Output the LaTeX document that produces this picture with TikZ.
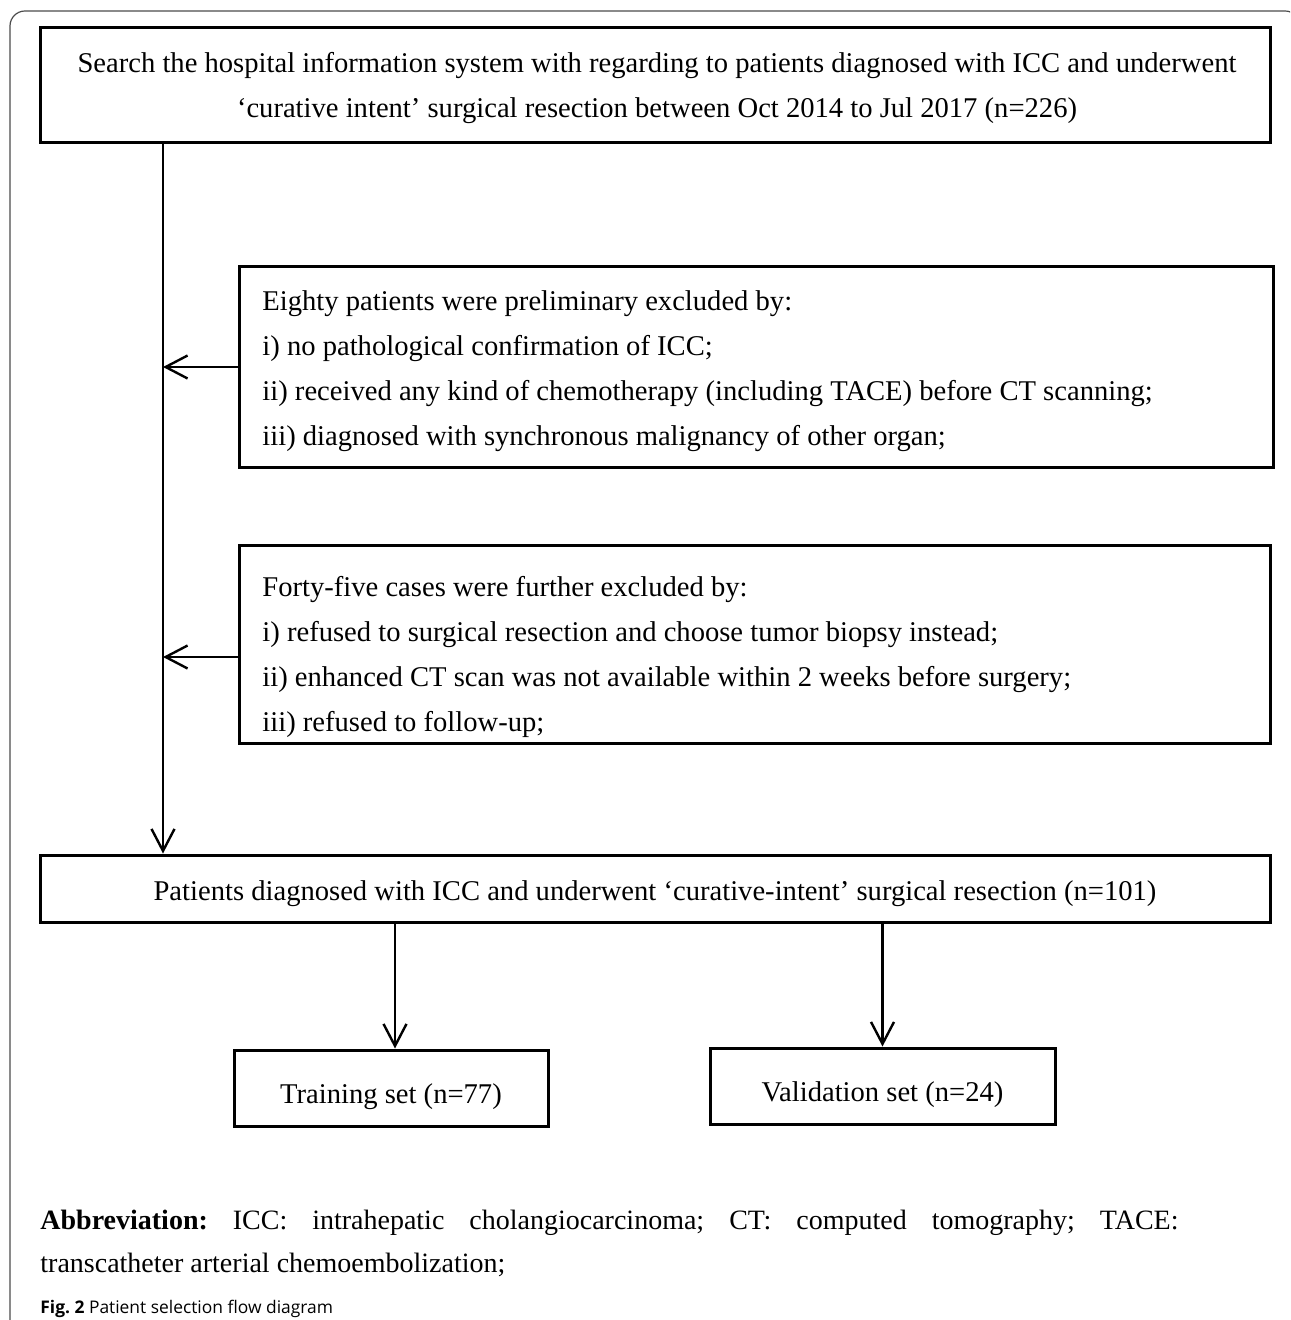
\documentclass[tikz,border=0pt]{standalone}
\usepackage{fontspec}
\setmainfont{Liberation Serif}
\newfontfamily\capfont{Open Sans}
\usetikzlibrary{arrows.meta,positioning}
\frenchspacing

\begin{document}
\begin{tikzpicture}[
	x = 0.5pt, y = -0.5pt, % one unit per pixel, y going down
	> = {Straight Barb[length=11pt, width=11.5pt]}, % open arrow head
	box/.style={rectangle, draw=black, line width=1.5pt, inner sep=0pt, font=\fontsize{14.3}{22}\selectfont},
	txt/.style={inner sep=0pt, align=left, font=\fontsize{14.3}{22.4}\selectfont},
	arr/.style={->, line width=1.2pt},
	frame/.style={draw=black!70, line width=0.6pt, rounded corners=7.5pt},
	]
	\useasboundingbox (0,0) rectangle (1290,1320);
	\clip (0,0) rectangle (1290,1320);

	% Outer frame
	\draw[frame] (10,1340) -- (10,11) -- (1300,11) -- (1300,1340);

	% Boxes
	\node[box, minimum width=615pt, minimum height=57.5pt] (search) at (655,85.5) {};
	\node[txt, align=center] (searchtxt) at (657,88)
		{Search the hospital information system with regarding to patients diagnosed with ICC and underwent\\
		 `curative intent' surgical resection between Oct 2014 to Jul 2017 (n=226)};
	\node[box, minimum width=517pt, minimum height=100pt] (excl1) at (756,367) {};
	\node[txt, anchor=west] (excl1txt) at (262,371)
		{Eighty patients were preliminary excluded by:\\
		 i) no pathological confirmation of ICC;\\
		 ii) received any kind of chemotherapy (including TACE) before CT scanning;\\
		 iii) diagnosed with synchronous malignancy of other organ;};
	\node[box, minimum width=515.5pt, minimum height=99pt] (excl2) at (754.5,644) {};
	\node[txt, anchor=west] (excl2txt) at (262,657)
		{Forty-five cases were further excluded by:\\
		 i) refused to surgical resection and choose tumor biopsy instead;\\
		 ii) enhanced CT scan was not available within 2 weeks before surgery;\\
		 iii) refused to follow-up;};
	\node[box, minimum width=615pt, minimum height=33.5pt, text height=14.5pt, text depth=3pt] (incl) at (655,888.5)
		{Patients diagnosed with ICC and underwent `curative-intent' surgical resection (n=101)};
	\node[box, minimum width=157pt, minimum height=38pt, text height=18.5pt, text depth=3pt] (train) at (391,1088) {Training set (n=77)};
	\node[box, minimum width=172.5pt, minimum height=38pt, text height=18.5pt, text depth=3pt] (valid) at (882.5,1086) {Validation set (n=24)};

	% Paths connecting nodes
	\coordinate (trunk) at (163,0);
	\draw[arr] (search.south -| trunk) -- (incl.north -| trunk);
	\draw[arr] (excl1.west) -- (excl1.west -| trunk);
	\draw[arr] ([yshift=-6.5pt]excl2.west) -- ([yshift=-6.5pt]excl2.west -| trunk);
	\draw[arr] ([xshift=2pt]incl.south -| train) -- ([xshift=2pt]train.north);
	\draw[arr] (incl.south -| valid) -- (valid.north);

	% Notes below
	\node[anchor=base west, inner sep=0pt, text width=569pt, align=justify, font=\fontsize{14}{21.5}\selectfont] (abbr) at (40,1229)
		{\textbf{Abbreviation:} ICC: intrahepatic cholangiocarcinoma; CT: computed tomography; TACE:\linebreak
		 transcatheter arterial chemoembolization;};
	\node[anchor=base west, inner sep=0pt, font=\capfont\fontsize{8.7}{10}\selectfont] (cap) at (40,1313)
		{\textbf{Fig. 2} Patient selection flow diagram};
\end{tikzpicture}
\end{document}
